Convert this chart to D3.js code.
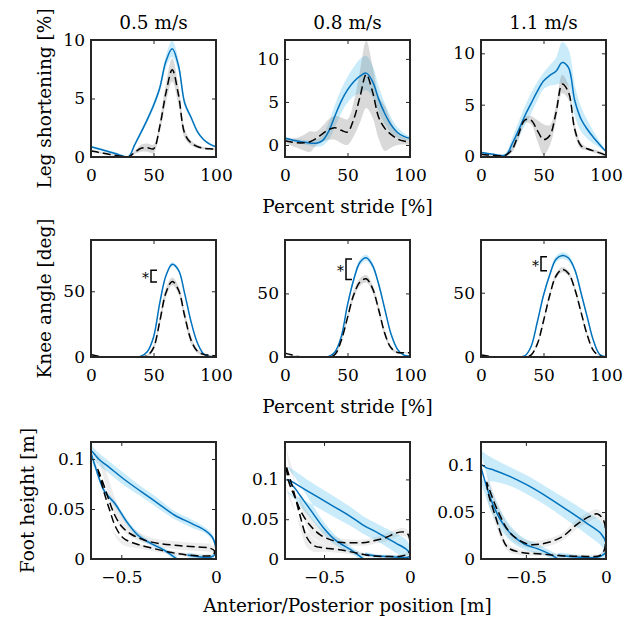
<!DOCTYPE html>
<html>
<head>
<meta charset="utf-8">
<script src="https://cdn.jsdelivr.net/npm/d3@7"></script>
<style>
  body { margin: 0; background: #fff; }
  text { font-family: "DejaVu Serif", serif; fill: #000; }
</style>
</head>
<body>
<svg id="fig" width="633" height="620"></svg>
<script>
// ---- data ----
var pct = [0, 5, 10, 15, 20, 25, 30, 35, 40, 45, 50, 55, 60, 65, 70, 75, 80, 85, 90, 95, 100];
var speeds = ["0.5 m/s", "0.8 m/s", "1.1 m/s"];

// leg shortening [%], blue = solid, black = dashed
var legBlue05   = [0.87, 0.73, 0.58, 0.43, 0.28, 0.1, 0.02, 1.05, 2.1, 3.2, 4.4, 5.9, 8.2, 9.25, 7.8, 4.6, 3.4, 2.2, 1.5, 1.1, 0.87];
var legBlueSd05 = [0.1, 0.1, 0.1, 0.1, 0.1, 0.1, 0.1, 0.15, 0.2, 0.25, 0.3, 0.35, 0.5, 0.7, 0.5, 0.3, 0.2, 0.15, 0.1, 0.1, 0.1];
var legBlack05   = [0.52, 0.42, 0.32, 0.22, 0.12, 0.05, 0.0, 0.4, 0.75, 0.8, 0.7, 2.6, 5.5, 7.45, 5.3, 2.0, 1.2, 0.9, 0.75, 0.7, 0.65];
var legBlackSd05 = [0.08, 0.08, 0.08, 0.08, 0.08, 0.08, 0.08, 0.15, 0.3, 0.35, 0.35, 0.5, 0.8, 1.0, 0.8, 0.4, 0.2, 0.15, 0.1, 0.1, 0.1];

var legBlue08   = [0.77, 0.6, 0.45, 0.32, 0.22, 0.2, 0.5, 1.6, 3.4, 5.1, 6.4, 7.35, 8.0, 8.35, 7.4, 5.3, 3.6, 2.3, 1.45, 1.0, 0.77];
var legBlueSd08 = [0.15, 0.15, 0.2, 0.25, 0.3, 0.4, 0.6, 1.0, 1.3, 1.4, 1.5, 1.7, 2.0, 2.0, 1.8, 1.5, 1.2, 0.9, 0.6, 0.4, 0.2];
var legBlack08   = [0.5, 0.35, 0.25, 0.25, 0.38, 0.77, 1.3, 1.8, 2.0, 1.7, 1.5, 3.0, 5.6, 8.2, 6.2, 3.2, 1.9, 1.2, 0.7, 0.45, 0.38];
var legBlackSd08 = [0.3, 0.4, 0.6, 0.9, 1.2, 0.8, 0.9, 1.2, 1.4, 1.5, 1.5, 2.0, 3.0, 3.9, 3.0, 2.5, 2.6, 1.5, 0.7, 0.4, 0.3];

var legBlue11   = [0.33, 0.25, 0.16, 0.05, 0.1, 1.2, 2.5, 3.9, 5.1, 6.3, 7.3, 7.85, 8.25, 9.1, 8.6, 5.4, 3.6, 2.6, 1.8, 1.1, 0.43];
var legBlueSd11 = [0.1, 0.1, 0.1, 0.1, 0.25, 0.6, 0.8, 0.9, 1.0, 0.9, 0.8, 1.0, 1.3, 2.0, 1.8, 1.5, 1.2, 0.9, 0.6, 0.3, 0.1];
var legBlack11   = [0.16, 0.1, 0.05, 0.02, 0.1, 0.66, 2.1, 3.5, 3.5, 2.5, 1.6, 2.0, 4.2, 7.0, 6.2, 2.6, 1.0, 0.7, 0.5, 0.3, 0.07];
var legBlackSd11 = [0.1, 0.1, 0.1, 0.1, 0.1, 0.3, 0.5, 0.3, 0.4, 1.0, 1.5, 1.0, 0.8, 0.9, 0.7, 0.5, 0.3, 0.15, 0.15, 0.15, 0.15];

// knee angle [deg]
var kneeBlue05   = [0, 0, 0, 0, 0, 0, 0, 0.2, 0.7, 4, 15, 41, 62, 70.5, 66, 48, 27, 11, 2.5, 0.4, 0];
var kneeBlueSd05 = [0.3, 0.3, 0.3, 0.3, 0.3, 0.3, 0.3, 0.3, 0.4, 0.6, 0.8, 1, 1.2, 1.5, 1.2, 1, 0.8, 0.6, 0.4, 0.3, 0.3];
var kneeBlack05   = [2, 0.8, 0.2, 0, 0, 0, 0, 0, 0, 1, 7, 27, 49, 57.5, 51, 31, 13, 4.5, 2, 1.3, 0.8];
var kneeBlackSd05 = [0.5, 0.5, 0.3, 0.2, 0.2, 0.2, 0.2, 0.2, 0.3, 0.8, 2, 3, 3.5, 3, 3, 3.5, 3, 1.5, 1, 0.5, 0.5];

var kneeBlue08   = [0, 0, 0, 0, 0, 0, 0, 0.5, 4, 16, 41, 61, 74.5, 78, 72, 57, 37, 17.5, 6, 1.5, 0.8];
var kneeBlueSd08 = [0.3, 0.3, 0.3, 0.3, 0.3, 0.3, 0.3, 0.4, 0.8, 1.2, 1.5, 2, 2.5, 2.5, 2.5, 2, 1.5, 1.2, 0.8, 0.4, 0.3];
var kneeBlack08   = [3, 1.8, 0.5, 0, 0, 0, 0, 0, 2, 13, 31, 49, 59, 61.5, 54, 37, 18, 7, 3.6, 3.4, 3.4];
var kneeBlackSd08 = [0.5, 0.5, 0.3, 0.2, 0.2, 0.2, 0.2, 0.2, 0.5, 1.5, 2.5, 3, 3, 3, 3, 3, 2.5, 1.5, 0.8, 0.5, 0.5];

var kneeBlue11   = [0.8, 0.3, 0, 0, 0, 0, 0, 0.8, 8, 27, 48, 64, 76, 79, 77, 68, 50, 31, 12.6, 2, 0.2];
var kneeBlueSd11 = [0.3, 0.3, 0.3, 0.3, 0.3, 0.3, 0.3, 0.4, 0.8, 1.2, 1.5, 2, 2.5, 2.5, 2.5, 2, 1.5, 1.2, 0.8, 0.4, 0.3];
var kneeBlack11   = [1.6, 0.8, 0.2, 0, 0, 0, 0, 0, 1.5, 10, 28, 48, 63, 68, 65, 53, 35, 17, 5, 0.8, 0];
var kneeBlackSd11 = [0.4, 0.4, 0.3, 0.2, 0.2, 0.2, 0.2, 0.2, 0.4, 1, 2, 2, 2, 2, 2, 2, 2, 1.2, 0.6, 0.4, 0.3];

// significance brackets on knee angle peaks
var bracketPct  = [48, 48.8, 48];
var bracketLow  = [57, 61, 67];
var bracketHigh = [66, 77, 78];

// foot trajectory: [anterior/posterior position m, foot height m, sd m]
var footBlue05 = [[-0.2, -0.001, 0.002], [-0.272, 0.0087, 0.002], [-0.342, 0.0154, 0.002], [-0.412, 0.0238, 0.003],
  [-0.465, 0.0356, 0.003], [-0.5, 0.0456, 0.003], [-0.535, 0.0557, 0.003], [-0.588, 0.0674, 0.003], [-0.632, 0.0893, 0.004],
  [-0.658, 0.108, 0.005], [-0.62, 0.1, 0.006], [-0.57, 0.0926, 0.006], [-0.48, 0.079, 0.006], [-0.395, 0.0674, 0.005],
  [-0.307, 0.0557, 0.005], [-0.22, 0.044, 0.004], [-0.13, 0.0356, 0.004], [-0.06, 0.0289, 0.003], [-0.02, 0.022, 0.003],
  [-0.003, 0.013, 0.003], [-0.004, 0.005, 0.002], [-0.025, 0.002, 0.002], [-0.08, 0.002, 0.002], [-0.15, 0.004, 0.002]];
var footBlack05 = [[-0.625, 0.09, 0.014], [-0.61, 0.083, 0.018], [-0.585, 0.07, 0.02], [-0.56, 0.056, 0.02],
  [-0.535, 0.044, 0.018], [-0.5, 0.033, 0.013], [-0.45, 0.025, 0.008], [-0.38, 0.019, 0.005], [-0.3, 0.0155, 0.004],
  [-0.2, 0.0135, 0.004], [-0.1, 0.012, 0.004], [-0.035, 0.011, 0.004], [-0.008, 0.008, 0.003], [-0.015, 0.004, 0.002],
  [-0.05, 0.003, 0.002], [-0.15, 0.004, 0.002], [-0.25, 0.007, 0.002], [-0.34, 0.011, 0.003], [-0.42, 0.015, 0.004],
  [-0.49, 0.021, 0.007], [-0.53, 0.032, 0.01], [-0.56, 0.048, 0.012], [-0.59, 0.066, 0.013], [-0.61, 0.08, 0.013],
  [-0.622, 0.088, 0.013]];

var footBlue08 = [[-0.265, -0.001, 0.003], [-0.333, 0.01, 0.004], [-0.43, 0.023, 0.006], [-0.506, 0.04, 0.008],
  [-0.563, 0.057, 0.01], [-0.62, 0.074, 0.012], [-0.67, 0.089, 0.014], [-0.713, 0.1, 0.016], [-0.6, 0.086, 0.014],
  [-0.467, 0.069, 0.013], [-0.35, 0.054, 0.012], [-0.275, 0.043, 0.011], [-0.18, 0.032, 0.011], [-0.083, 0.02, 0.012],
  [-0.02, 0.012, 0.012], [-0.002, 0.007, 0.008], [-0.005, 0.003, 0.003], [-0.04, 0.002, 0.002], [-0.12, 0.003, 0.002],
  [-0.2, 0.004, 0.002], [-0.26, 0.006, 0.002]];
var footBlack08 = [[-0.72, 0.115, 0.022], [-0.705, 0.097, 0.02], [-0.67, 0.078, 0.018], [-0.63, 0.058, 0.015],
  [-0.58, 0.042, 0.012], [-0.52, 0.03, 0.009], [-0.46, 0.024, 0.007], [-0.41, 0.021, 0.005], [-0.34, 0.0205, 0.004],
  [-0.275, 0.0205, 0.004], [-0.21, 0.023, 0.004], [-0.14, 0.027, 0.005], [-0.083, 0.0325, 0.005], [-0.04, 0.034, 0.005],
  [-0.012, 0.031, 0.005], [0, 0.02, 0.004], [-0.006, 0.008, 0.003], [-0.04, 0.004, 0.002], [-0.12, 0.003, 0.002],
  [-0.22, 0.004, 0.002], [-0.32, 0.008, 0.003], [-0.42, 0.012, 0.004], [-0.5, 0.014, 0.005], [-0.56, 0.017, 0.008],
  [-0.6, 0.027, 0.012], [-0.64, 0.055, 0.016], [-0.68, 0.088, 0.02], [-0.705, 0.106, 0.022], [-0.72, 0.117, 0.022]];

var footBlue11 = [[-0.29, -0.001, 0.003], [-0.36, 0.006, 0.004], [-0.43, 0.011, 0.005], [-0.51, 0.016, 0.006],
  [-0.594, 0.027, 0.008], [-0.656, 0.041, 0.01], [-0.708, 0.059, 0.012], [-0.75, 0.08, 0.014], [-0.777, 0.1, 0.015],
  [-0.745, 0.097, 0.014], [-0.698, 0.0946, 0.012], [-0.594, 0.0875, 0.01], [-0.49, 0.0786, 0.01], [-0.365, 0.066, 0.01],
  [-0.24, 0.052, 0.011], [-0.115, 0.0375, 0.012], [-0.031, 0.027, 0.013], [0.002, 0.016, 0.012], [-0.002, 0.007, 0.006],
  [-0.05, 0.002, 0.002], [-0.156, 0.0018, 0.002], [-0.3, 0.004, 0.002]];
var footBlack11 = [[-0.745, 0.082, 0.01], [-0.735, 0.07, 0.01], [-0.708, 0.055, 0.009], [-0.68, 0.04, 0.008],
  [-0.656, 0.027, 0.006], [-0.615, 0.0125, 0.004], [-0.53, 0.007, 0.003], [-0.406, 0.0054, 0.002], [-0.3, 0.0036, 0.002],
  [-0.2, 0.003, 0.002], [-0.1, 0.0028, 0.002], [-0.04, 0.0035, 0.002], [-0.012, 0.009, 0.003], [-0.002, 0.02, 0.004],
  [-0.002, 0.03, 0.005], [-0.015, 0.041, 0.005], [-0.052, 0.048, 0.005], [-0.094, 0.046, 0.005], [-0.177, 0.0375, 0.005],
  [-0.28, 0.023, 0.004], [-0.406, 0.016, 0.004], [-0.49, 0.016, 0.004], [-0.594, 0.027, 0.006], [-0.677, 0.052, 0.008],
  [-0.73, 0.075, 0.01], [-0.745, 0.082, 0.01]];

// axis limits and ticks
var legYDomain  = [[0, 10], [-1.4, 12.2], [-0.1, 11.3]];
var kneeYDomain = [[0, 89], [0, 92], [0, 91]];
var footXDomain = [[-0.66, 0], [-0.727, 0], [-0.78, 0]];
var footYDomain = [[0, 0.117], [0, 0.147], [0, 0.1246]];
var pctTicks = [0, 50, 100];
var legTicks = [0, 5, 10];
var kneeTicks = [0, 50];
var posTicks = [-0.5, 0];
var heightTicks = [0, 0.05, 0.1];

// ---- layout ----
var svg = d3.select('#fig');
var colX = [91, 285, 481], rowY = [40, 240, 442];
var pw = 125, ph = 117;
var blue = '#0072BD', blueFill = '#4DBEEE', axisColor = '#262626';
var grayOpacity = [0.3, 0.3, 0.14];
var fontFamily = '"DejaVu Serif", serif';

var fmtNum = d => String(d).replace('-', '\u2212');

function drawAxes(g, x, y, xt, yt) {
  var styleAxis = sel => {
    sel.select('.domain').remove();
    sel.selectAll('line').attr('stroke', axisColor);
    sel.attr('font-size', 17).attr('font-family', fontFamily);
    sel.selectAll('text').attr('fill', '#000');
  };
  g.append('g').attr('transform', `translate(0,${ph})`)
    .call(d3.axisBottom(x).tickValues(xt).tickSize(-4).tickPadding(12).tickFormat(fmtNum)).call(styleAxis);
  g.append('g')
    .call(d3.axisLeft(y).tickValues(yt).tickSize(-4).tickPadding(6).tickFormat(fmtNum)).call(styleAxis);
  g.append('g')
    .call(d3.axisTop(x).tickValues(xt).tickSize(-4).tickFormat('')).call(styleAxis);
  g.append('g').attr('transform', `translate(${pw},0)`)
    .call(d3.axisRight(y).tickValues(yt).tickSize(-4).tickFormat('')).call(styleAxis);
  g.append('rect').attr('width', pw).attr('height', ph)
    .attr('fill', 'none').attr('stroke', axisColor).attr('stroke-width', 2);
}

function panelGroup(row, col) {
  var g = svg.append('g').attr('transform', `translate(${colX[col]},${rowY[row]})`);
  var id = 'clip' + row + col;
  g.append('clipPath').attr('id', id).append('rect').attr('width', pw).attr('height', ph);
  var plot = g.append('g').attr('clip-path', `url(#${id})`);
  return [g, plot];
}

function drawStride(row, col, yd, yt, bm, bs, km, ks) {
  var [g, plot] = panelGroup(row, col);
  var x = d3.scaleLinear().domain([0, 100]).range([0, pw]);
  var y = d3.scaleLinear().domain(yd).range([ph, 0]);
  var pts = (m, s) => pct.map((p, i) => ({ x: p, m: m[i], s: s[i] }));
  var area = d3.area().x(d => x(d.x)).y0(d => y(d.m - d.s)).y1(d => y(d.m + d.s)).curve(d3.curveCatmullRom);
  var line = d3.line().x(d => x(d.x)).y(d => y(d.m)).curve(d3.curveCatmullRom);

  plot.append('path').attr('d', area(pts(bm, bs))).attr('fill', blueFill).attr('fill-opacity', 0.3);
  plot.append('path').attr('d', area(pts(km, ks))).attr('fill', '#808080').attr('fill-opacity', grayOpacity[row]);
  plot.append('path').attr('d', line(pts(bm, bs))).attr('fill', 'none').attr('stroke', blue).attr('stroke-width', 1.5);
  plot.append('path').attr('d', line(pts(km, ks))).attr('fill', 'none').attr('stroke', '#000')
    .attr('stroke-width', 1.5).attr('stroke-dasharray', '8,4');
  drawAxes(g, x, y, pctTicks, yt);
  return [g, x, y];
}

function drawFoot(col, xd, yd, bl, kl) {
  var row = 2;
  var [g, plot] = panelGroup(row, col);
  var x = d3.scaleLinear().domain(xd).range([0, pw]);
  var y = d3.scaleLinear().domain(yd).range([ph, 0]);
  var line = d3.line().x(d => x(d[0])).y(d => y(d[1])).curve(d3.curveCatmullRom);
  var band = loop => {
    var up = loop.map(p => [p[0], p[1] + p[2]]);
    var lo = loop.map(p => [p[0], p[1] - p[2]]).reverse();
    return d3.line().x(d => x(d[0])).y(d => y(d[1])).curve(d3.curveCatmullRomClosed)(up.concat(lo));
  };
  plot.append('path').attr('d', band(bl)).attr('fill', blueFill).attr('fill-opacity', 0.3);
  plot.append('path').attr('d', band(kl)).attr('fill', '#808080').attr('fill-opacity', grayOpacity[row]);
  plot.append('path').attr('d', line(bl)).attr('fill', 'none').attr('stroke', blue).attr('stroke-width', 1.5);
  plot.append('path').attr('d', line(kl)).attr('fill', 'none').attr('stroke', '#000')
    .attr('stroke-width', 1.5).attr('stroke-dasharray', '8,4');
  drawAxes(g, x, y, posTicks, heightTicks);
}

// row 1: leg shortening
drawStride(0, 0, legYDomain[0], legTicks, legBlue05, legBlueSd05, legBlack05, legBlackSd05);
drawStride(0, 1, legYDomain[1], legTicks, legBlue08, legBlueSd08, legBlack08, legBlackSd08);
drawStride(0, 2, legYDomain[2], legTicks, legBlue11, legBlueSd11, legBlack11, legBlackSd11);

// row 2: knee angle, with brackets
var knee = [
  [kneeBlue05, kneeBlueSd05, kneeBlack05, kneeBlackSd05],
  [kneeBlue08, kneeBlueSd08, kneeBlack08, kneeBlackSd08],
  [kneeBlue11, kneeBlueSd11, kneeBlack11, kneeBlackSd11]
];
knee.forEach((k, c) => {
  var [g, x, y] = drawStride(1, c, kneeYDomain[c], kneeTicks, k[0], k[1], k[2], k[3]);
  var bx = x(bracketPct[c]);
  g.append('path')
    .attr('d', `M${bx + 6},${y(bracketHigh[c])}H${bx}V${y(bracketLow[c])}H${bx + 6}`)
    .attr('fill', 'none').attr('stroke', '#000').attr('stroke-width', 1.5);
  g.append('text').attr('x', bx - 2).attr('y', (y(bracketHigh[c]) + y(bracketLow[c])) / 2 + 7)
    .attr('text-anchor', 'end').attr('font-size', 14).text('*');
});

// row 3: foot trajectories
drawFoot(0, footXDomain[0], footYDomain[0], footBlue05, footBlack05);
drawFoot(1, footXDomain[1], footYDomain[1], footBlue08, footBlack08);
drawFoot(2, footXDomain[2], footYDomain[2], footBlue11, footBlack11);

// ---- labels ----
var label = (x, y, t, rot) => {
  var s = svg.append('text').attr('text-anchor', 'middle').attr('font-size', 18.5)
    .attr('font-family', fontFamily).text(t);
  if (rot) s.attr('transform', `translate(${x},${y}) rotate(-90)`);
  else s.attr('x', x).attr('y', y);
};
speeds.forEach((s, c) => label(colX[c] + pw / 2, 29, s));
label(colX[1] + pw / 2, 213, 'Percent stride [%]');
label(colX[1] + pw / 2, 413, 'Percent stride [%]');
label(colX[1] + pw / 2, 612, 'Anterior/Posterior position [m]');
label(51, rowY[0] + ph / 2, 'Leg shortening [%]', true);
label(51, rowY[1] + ph / 2, 'Knee angle [deg]', true);
label(34, rowY[2] + ph / 2, 'Foot height [m]', true);
</script>
</body>
</html>
